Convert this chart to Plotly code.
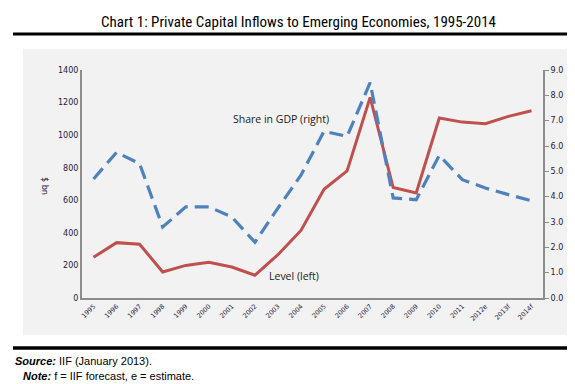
import plotly.graph_objects as go

years = ["1995", "1996", "1997", "1998", "1999", "2000", "2001", "2002", "2003", "2004",
         "2005", "2006", "2007", "2008", "2009", "2010", "2011", "2012e", "2013f", "2014f"]
level = [250, 340, 330, 160, 200, 220, 190, 140, 266, 415,
         668, 780, 1232, 678, 645, 1105, 1080, 1070, 1115, 1150]
share = [4.7, 5.75, 5.3, 2.8, 3.6, 3.6, 3.2, 2.2, 3.55, 4.85,
         6.58, 6.38, 8.5, 3.95, 3.88, 5.63, 4.67, 4.34, 4.08, 3.84]

W, H = 575, 384
L, R, T, B = 74, 535, 62, 290


def px(x):
    return (x - L) / (R - L)


def py(y):
    return (B - y) / (B - T)


RED = "#C0504D"
BLUE = "#4F81BD"
TICK = "#1F2040"

fig = go.Figure()
fig.add_trace(go.Scatter(x=years, y=level, mode="lines", name="Level (left)",
                         line=dict(color=RED, width=3), yaxis="y"))
fig.add_trace(go.Scatter(x=years, y=share, mode="lines", name="Share in GDP (right)",
                         line=dict(color=BLUE, width=3.2, dash="14px,7px"), yaxis="y2"))

shapes = [
    dict(type="rect", xref="paper", yref="paper", x0=px(15), x1=px(575), y0=py(327), y1=py(41),
         fillcolor="#F2F2F2", line=dict(width=0), layer="below"),
    dict(type="line", xref="paper", yref="paper", x0=px(5), x1=px(570), y0=py(26), y1=py(26),
         line=dict(color="black", width=3)),
    dict(type="line", xref="paper", yref="paper", x0=px(5), x1=px(570), y0=py(340), y1=py(340),
         line=dict(color="black", width=3.5)),
]

annotations = [
    dict(text="Chart 1: Private Capital Inflows to Emerging Economies, 1995-2014",
         xref="paper", yref="paper", x=px(290), y=py(14), xanchor="center", yanchor="middle",
         showarrow=False, font=dict(family="Liberation Sans Narrow, Roboto Condensed, Liberation Sans", size=15, color="black")),
    dict(text="Share in GDP (right)", xref="paper", yref="paper", x=px(273), y=py(111),
         xanchor="center", yanchor="middle", showarrow=False,
         font=dict(family="Open Sans, Noto Sans", size=10.5, color="#1a1a1a")),
    dict(text="Level (left)", xref="paper", yref="paper", x=px(286), y=py(268),
         xanchor="center", yanchor="middle", showarrow=False,
         font=dict(family="Open Sans, Noto Sans", size=10.5, color="#1a1a1a")),
    dict(text="$ bn", xref="paper", yref="paper", x=px(37), y=py(178), textangle=90,
         xanchor="center", yanchor="middle", showarrow=False,
         font=dict(family="DejaVu Sans", size=8, color=TICK)),
    dict(text="<b><i>Source:</i></b> IIF (January 2013).", xref="paper", yref="paper",
         x=px(5), y=py(353), xanchor="left", yanchor="middle", showarrow=False,
         font=dict(family="Liberation Sans Narrow, Liberation Sans", size=11, color="black")),
    dict(text="<b><i>Note:</i></b> f = IIF forecast, e = estimate.", xref="paper", yref="paper",
         x=px(13), y=py(368), xanchor="left", yanchor="middle", showarrow=False,
         font=dict(family="Liberation Sans Narrow, Liberation Sans", size=11, color="black")),
]

fig.update_layout(
    width=W, height=H,
    margin=dict(l=L, r=W - R, t=T, b=H - B),
    paper_bgcolor="white", plot_bgcolor="white",
    showlegend=False,
    shapes=shapes, annotations=annotations,
    xaxis=dict(type="category", range=[-0.5, len(years) - 0.5], showgrid=False, zeroline=False,
               showline=True, linecolor="#8C8C8C", linewidth=2, tickangle=-45, ticks="",
               tickfont=dict(family="DejaVu Sans", size=6.5, color=TICK), fixedrange=True),
    yaxis=dict(range=[0, 1400], dtick=200, showgrid=False, zeroline=False, showline=True,
               linecolor="#8C8C8C", linewidth=2, ticks="", ticklen=0,
               tickfont=dict(family="DejaVu Sans", size=8, color=TICK)),
    yaxis2=dict(range=[0, 9], dtick=1, tickformat=".1f", overlaying="y", side="right",
                showgrid=False, zeroline=False, showline=True, linecolor="#8C8C8C",
                linewidth=2, ticks="outside", ticklen=4, tickcolor="#8C8C8C",
                tickfont=dict(family="DejaVu Sans", size=8, color=TICK)),
)

fig.write_html("out.html")
